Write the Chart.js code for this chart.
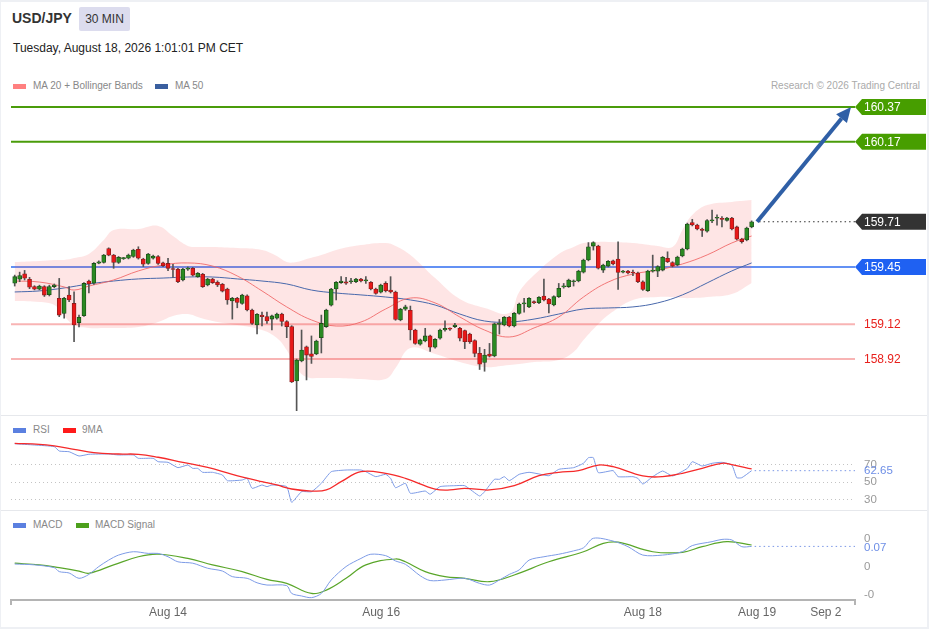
<!DOCTYPE html>
<html>
<head>
<meta charset="utf-8">
<title>USD/JPY 30 MIN</title>
<script src="https://cdn.jsdelivr.net/npm/chart.js@4.4.1/dist/chart.umd.min.js"></script>
<style>
  body { margin:0; width:929px; height:629px; background:#eef0f4; font-family:"Liberation Sans", Arial, sans-serif; overflow:hidden; }
  .abs { position:absolute; }
  #sheet { left:1px; top:2px; width:926px; height:625px; background:#fff; }
  .sep { left:1px; width:926px; height:1px; background:#e6e8ec; }
  .sw { height:5px; width:13px; }
  .lg { font-size:10px; color:#888; line-height:12px; white-space:nowrap; }
  canvas { position:absolute; left:0; }
</style>
</head>
<body>
<div id="sheet" class="abs"></div>
<div class="abs sep" style="top:415px"></div>
<div class="abs sep" style="top:510px"></div>

<div class="abs" style="left:12px;top:10px;font-size:14px;font-weight:bold;color:#333;">USD/JPY</div>
<div class="abs" style="left:79px;top:7px;width:51px;height:24px;line-height:24px;background:#dcdcee;text-align:center;font-size:12px;color:#333;border-radius:2px;">30 MIN</div>
<div class="abs" style="left:13px;top:41px;font-size:12px;color:#222;">Tuesday, August 18, 2026 1:01:01 PM CET</div>

<div class="abs sw" style="left:13px;top:84px;background:#ff8080;"></div>
<div class="abs lg" style="left:33px;top:80px;">MA 20 + Bollinger Bands</div>
<div class="abs sw" style="left:155px;top:84px;background:#3a5f9f;"></div>
<div class="abs lg" style="left:175px;top:80px;">MA 50</div>
<div class="abs lg" style="right:9px;top:80px;color:#aaa;">Research © 2026 Trading Central</div>

<div class="abs sw" style="left:13px;top:428px;background:#5b80e0;"></div>
<div class="abs lg" style="left:33px;top:424px;">RSI</div>
<div class="abs sw" style="left:63px;top:428px;background:#ff1a1a;"></div>
<div class="abs lg" style="left:82px;top:424px;">9MA</div>

<div class="abs sw" style="left:13px;top:523px;background:#5b80e0;"></div>
<div class="abs lg" style="left:33px;top:519px;">MACD</div>
<div class="abs sw" style="left:76px;top:523px;background:#4ca01c;"></div>
<div class="abs lg" style="left:95px;top:519px;">MACD Signal</div>

<canvas id="main" width="929" height="320" style="top:95px"></canvas>
<canvas id="rsi" width="929" height="94" style="top:416px"></canvas>
<canvas id="macd" width="929" height="118" style="top:511px"></canvas>

<script>
// ---- candles (30 min, index 0 = first bar on screen) ----
const opens = [
159.356,159.380,159.410,159.379,159.337,159.322,159.337,159.290,159.337,159.269,
159.183,159.288,159.240,159.130,159.170,159.369,159.357,159.472,159.476,159.556,
159.518,159.476,159.498,159.500,159.510,159.551,159.495,159.470,159.500,159.510,
159.474,159.470,159.440,159.437,159.375,159.437,159.442,159.394,159.408,159.346,
159.380,159.361,159.350,159.323,159.254,159.270,159.240,159.284,159.202,159.116,
159.173,159.164,159.150,159.155,159.179,159.136,159.107,158.794,158.909,158.990,
158.950,158.950,159.043,159.107,159.230,159.323,159.360,159.365,159.365,159.365,
159.380,159.370,159.361,159.323,159.305,159.355,159.317,159.306,159.145,159.207,
159.200,159.087,159.006,159.024,159.053,158.988,159.040,159.087,159.097,159.107,
159.097,159.084,159.064,159.026,158.953,158.900,158.949,158.938,159.120,159.116,
159.160,159.110,159.183,159.237,159.220,159.250,159.244,159.283,159.265,159.231,
159.279,159.335,159.337,159.365,159.369,159.420,159.490,159.570,159.570,159.432,
159.455,159.485,159.495,159.420,159.426,159.418,159.415,159.365,159.314,159.426,
159.426,159.432,159.500,159.475,159.461,159.513,159.553,159.705,159.691,159.668,
159.655,159.715,159.730,159.726,159.718,159.731,159.680,159.610,159.605,159.680];
const highs = [
159.403,159.420,159.430,159.390,159.342,159.345,159.342,159.345,159.352,159.384,
159.275,159.337,159.307,159.173,159.360,159.375,159.475,159.485,159.522,159.560,
159.522,159.510,159.505,159.524,159.552,159.566,159.500,159.528,159.518,159.515,
159.478,159.500,159.465,159.442,159.442,159.450,159.447,159.418,159.413,159.385,
159.385,159.370,159.355,159.328,159.275,159.275,159.293,159.289,159.207,159.182,
159.190,159.190,159.173,159.184,159.184,159.141,159.112,158.920,159.087,158.995,
159.053,159.029,159.173,159.207,159.327,159.366,159.394,159.390,159.385,159.385,
159.385,159.394,159.366,159.328,159.351,159.365,159.394,159.311,159.212,159.230,
159.225,159.092,159.035,159.097,159.058,159.038,159.092,159.140,159.100,159.125,
159.102,159.087,159.069,159.031,158.987,158.976,159.010,159.127,159.148,159.165,
159.165,159.188,159.242,159.269,159.274,159.255,159.280,159.380,159.270,159.284,
159.355,159.355,159.380,159.375,159.431,159.495,159.590,159.595,159.575,159.466,
159.487,159.490,159.595,159.431,159.431,159.432,159.420,159.370,159.431,159.518,
159.457,159.510,159.537,159.480,159.512,159.558,159.702,159.724,159.696,159.673,
159.722,159.777,159.750,159.740,159.736,159.736,159.685,159.615,159.679,159.715];
const lows = [
159.340,159.365,159.375,159.325,159.318,159.318,159.280,159.283,159.330,159.164,
159.155,159.250,159.020,159.105,159.165,159.300,159.350,159.468,159.472,159.514,
159.442,159.470,159.493,159.496,159.505,159.495,159.452,159.465,159.495,159.465,
159.452,159.428,159.390,159.360,159.370,159.430,159.398,159.390,159.332,159.341,
159.355,159.337,159.306,159.235,159.150,159.215,159.235,159.197,159.120,159.064,
159.110,159.125,159.087,159.150,159.110,159.043,158.785,158.623,158.904,158.800,
158.895,158.945,158.955,159.102,159.225,159.260,159.355,159.350,159.355,159.360,
159.364,159.355,159.318,159.293,159.300,159.306,159.300,159.143,159.140,159.200,
159.030,159.005,159.000,159.019,158.964,158.983,159.035,159.080,159.085,159.100,
159.024,158.980,159.010,158.933,158.860,158.850,158.932,158.933,159.064,159.111,
159.105,159.105,159.178,159.190,159.215,159.239,159.239,159.255,159.185,159.226,
159.274,159.328,159.332,159.340,159.364,159.415,159.485,159.547,159.438,159.418,
159.450,159.462,159.320,159.415,159.410,159.400,159.360,159.315,159.309,159.420,
159.394,159.427,159.475,159.450,159.456,159.508,159.548,159.686,159.663,159.625,
159.650,159.705,159.690,159.680,159.713,159.663,159.605,159.587,159.600,159.675];
const closes = [
159.394,159.400,159.385,159.333,159.322,159.340,159.288,159.337,159.346,159.173,
159.269,159.260,159.116,159.160,159.355,159.352,159.470,159.480,159.518,159.518,
159.476,159.505,159.500,159.518,159.547,159.500,159.466,159.524,159.513,159.470,
159.457,159.442,159.435,159.365,159.437,159.440,159.403,159.413,159.337,159.380,
159.360,159.346,159.311,159.260,159.270,159.246,159.288,159.202,159.125,159.177,
159.164,159.139,159.168,159.179,159.136,159.107,158.788,158.914,158.972,158.943,
158.935,159.024,159.125,159.202,159.323,159.361,159.369,159.356,159.370,159.380,
159.369,159.372,159.323,159.298,159.346,159.313,159.306,159.148,159.207,159.220,
159.087,159.010,159.030,159.053,158.988,159.033,159.087,159.097,159.092,159.116,
159.040,159.020,159.020,158.953,158.891,158.943,158.937,159.122,159.125,159.160,
159.110,159.183,159.237,159.244,159.269,159.244,159.275,159.260,159.237,159.279,
159.327,159.340,159.375,159.369,159.426,159.490,159.566,159.590,159.443,159.461,
159.482,159.467,159.418,159.426,159.415,159.415,159.365,159.320,159.426,159.430,
159.452,159.505,159.480,159.455,159.507,159.553,159.697,159.691,159.668,159.660,
159.717,159.720,159.733,159.724,159.731,159.668,159.610,159.596,159.674,159.710];

// ---- Bollinger bands (read at these bar indices) ----
const bandIdx = [0,5,8,10,12,15,18,20,25,29,32,35,37,40,45,50,53,55,57,59,62,65,70,75,77,80,85,90,95,100,102,105,110,113,115,118,120,125,130,133,135,137,140,145,149];
const bandUpper = [159.478,159.484,159.490,159.490,159.501,159.525,159.605,159.663,159.668,159.686,
  159.628,159.571,159.565,159.565,159.559,159.548,159.513,159.478,159.478,159.496,
  159.519,159.548,159.576,159.588,159.571,159.519,159.386,159.265,159.214,159.185,
  159.306,159.403,159.525,159.565,159.588,159.594,159.594,159.588,159.571,159.565,
  159.663,159.749,159.806,159.824,159.835];
const bandLower = [159.254,159.248,159.231,159.168,159.116,159.099,159.099,159.099,159.104,159.133,
  159.168,159.179,159.162,159.139,159.116,159.087,159.041,158.972,158.869,158.817,
  158.811,158.811,158.805,158.805,158.869,158.984,158.949,158.903,158.874,158.886,
  158.891,158.903,158.915,158.961,159.030,159.122,159.174,159.260,159.277,159.277,
  159.271,159.271,159.277,159.294,159.358];

const ma20Idx = [0,5,10,12,15,20,25,30,35,40,45,50,55,60,65,70,75,80,85,90,95,100,105,110,115,120,125,130,135,140,145,149];
const ma20 = [159.369,159.363,159.335,159.317,159.340,159.375,159.427,159.461,159.473,159.455,
  159.398,159.312,159.220,159.145,159.110,159.133,159.208,159.271,159.243,159.162,
  159.087,159.047,159.099,159.162,159.277,159.363,159.409,159.432,159.467,159.519,
  159.588,159.628];
const ma50Idx = [0,5,10,15,20,25,30,35,40,45,50,55,60,65,70,75,80,85,90,95,100,105,110,115,120,125,130,135,140,145,149];
const ma50 = [159.306,159.312,159.329,159.352,159.369,159.381,159.386,159.392,159.392,159.381,
  159.369,159.352,159.317,159.300,159.289,159.277,159.260,159.231,159.179,159.139,
  159.133,159.150,159.179,159.208,159.214,159.220,159.243,159.289,159.358,159.427,
  159.473];

// ---- key levels ----
const resistances = [160.37, 160.17];
const pivot = 159.45;
const supports = [159.12, 158.92];
const lastPrice = 159.71;
const arrowFrom = [150.1, 159.71];   // [bar index, price]
const arrowTo = [169.1, 160.37];

// ---- RSI ----
const rsiIdx = [0,4,8,9,11,13,15,19,21,24,25,28,29,31,33,35,36,37,38,40,42,43,46,47,48,50,51,52,55,56,58,60,62,64,67,70,71,73,75,76,77,79,80,83,84,86,89,91,94,95,97,98,99,100,102,104,106,108,110,113,115,116,117,118,121,122,125,126,127,129,131,133,136,137,139,141,143,145,146,147,149];
const rsiVals = [93.4,92.0,90.1,85.1,84.3,79.4,81.4,81.7,80.6,80.6,76.8,76.8,72.9,72.2,66.1,69.1,65.3,65.3,60.8,60.8,
  57.7,51.2,52.0,53.9,42.5,46.3,44.4,46.3,44.4,26.5,38.6,38.6,48.2,61.5,63.4,63.4,61.5,55.8,58.5,53.9,
  43.2,48.2,36.8,39.4,35.7,44.4,45.5,45.5,33.7,38.6,52.8,52.8,55.8,51.2,58.5,60.8,58.9,56.9,64.2,66.1,
  71.1,77.5,77.5,60.4,62.7,55.8,55.8,53.9,47.4,55.8,62.3,56.6,65.3,72.9,68.0,71.1,72.2,69.1,54.6,54.6,62.65];
const rsiMaIdx = [0,5,8,12,16,21,25,29,34,39,44,50,53,56,60,63,66,70,75,79,85,88,91,96,101,106,110,114,118,121,127,131,135,139,143,145,149];
const rsiMaVals = [93.9,92.8,90.9,87.1,83.2,81.7,81.4,78.0,72.2,66.5,58.5,50.1,46.3,41.7,39.4,40.6,50.1,61.5,59.6,53.9,
  41.7,40.6,42.5,40.6,45.5,56.9,60.8,62.7,69.1,67.2,56.6,55.8,59.6,65.3,71.1,69.5,64.6];
const rsiTicks = [70, 50, 30];

// ---- MACD ----
const macdIdx = [0,4,8,9,11,13,15,17,19,21,24,27,29,31,33,36,39,42,44,47,49,51,55,56,58,60,62,64,67,70,72,75,77,79,82,84,87,91,94,96,98,100,102,104,107,110,113,115,117,121,124,127,131,135,137,141,143,145,147,149];
const macdVals = [0.007,0.004,-0.006,-0.020,-0.025,-0.044,-0.030,-0.002,0.021,0.039,
  0.051,0.045,0.045,0.033,0.015,0.010,-0.008,-0.018,-0.038,-0.044,
  -0.060,-0.068,-0.070,-0.098,-0.107,-0.113,-0.098,-0.050,-0.002,0.027,
  0.042,0.037,0.018,0.006,-0.035,-0.052,-0.050,-0.044,-0.062,-0.068,
  -0.050,-0.030,-0.014,0.021,0.033,0.042,0.054,0.065,0.099,0.089,
  0.069,0.039,0.039,0.051,0.073,0.087,0.095,0.093,0.069,0.070];
const signalIdx = [0,5,9,13,15,20,25,29,35,40,46,51,55,60,63,67,71,77,79,83,87,91,96,101,108,115,119,122,129,135,139,144,149];
const signalVals = [0.010,0.004,-0.006,-0.018,-0.026,0.004,0.033,0.042,0.027,0.004,
  -0.020,-0.048,-0.062,-0.098,-0.086,-0.044,0.004,0.025,0.015,-0.020,
  -0.038,-0.044,-0.056,-0.032,0.015,0.051,0.081,0.085,0.051,0.049,
  0.069,0.087,0.075];
const macdTicks = [0.1, 0, -0.1];

// ---- time axis ----
const timeTickIdx = [31.0, 74.1, 127.0, 150.1, 164.0];
const timeTickLabels = ['Aug 14', 'Aug 16', 'Aug 18', 'Aug 19', 'Sep 2'];

// ------------------------------------------------------------------
const FONT = '12px "Liberation Sans", Arial, sans-serif';
const SMALL = '11.5px "Liberation Sans", Arial, sans-serif';
const pts = (idx, vals) => idx.map((x, k) => ({ x: x, y: vals[k] }));
const xScale = { type: 'linear', min: -0.75, max: 169.9, display: false, offset: false };
const base = {
  animation: false, responsive: false, events: [],
  plugins: { legend: { display: false }, tooltip: { enabled: false } }
};

function hline(ctx, a, y, color, width, dash) {
  ctx.save();
  ctx.strokeStyle = color; ctx.lineWidth = width;
  if (dash) ctx.setLineDash(dash);
  ctx.beginPath(); ctx.moveTo(a.left, y); ctx.lineTo(a.right, y); ctx.stroke();
  ctx.restore();
}

function tag(ctx, x, y, text, bg) {
  ctx.save();
  ctx.fillStyle = bg;
  ctx.beginPath();
  ctx.moveTo(x, y);
  ctx.lineTo(x + 7, y - 8);
  ctx.lineTo(x + 71, y - 8);
  ctx.lineTo(x + 71, y + 8);
  ctx.lineTo(x + 7, y + 8);
  ctx.closePath();
  ctx.fill();
  ctx.fillStyle = '#fff';
  ctx.font = FONT; ctx.textBaseline = 'middle';
  ctx.fillText(text, x + 9, y + 0.5);
  ctx.restore();
}

const mainDeco = {
  id: 'mainDeco',
  beforeDatasetsDraw(chart) {
    const { ctx, chartArea: a, scales: { y } } = chart;
    resistances.forEach(p => hline(ctx, a, y.getPixelForValue(p), '#4a9c0a', 2));
    supports.forEach(p => hline(ctx, a, y.getPixelForValue(p), '#f8b4b4', 2));
    hline(ctx, a, y.getPixelForValue(pivot), '#2f6df0', 1.5);
  },
  afterDraw(chart) {
    const { ctx, chartArea: a, scales: { x, y } } = chart;
    // dotted line from last bar to the price tag
    const ly = y.getPixelForValue(lastPrice);
    ctx.save();
    ctx.strokeStyle = '#333'; ctx.lineWidth = 1.2; ctx.setLineDash([1.5, 3]);
    ctx.beginPath(); ctx.moveTo(x.getPixelForValue(arrowFrom[0]) + 2, ly); ctx.lineTo(a.right, ly); ctx.stroke();
    ctx.restore();
    // projection arrow
    const x0 = x.getPixelForValue(arrowFrom[0]), y0 = y.getPixelForValue(arrowFrom[1]);
    const x1 = x.getPixelForValue(arrowTo[0]), y1 = y.getPixelForValue(arrowTo[1]);
    const ang = Math.atan2(y1 - y0, x1 - x0), hl = 15, hw = 7;
    const bx = x1 - hl * Math.cos(ang), by = y1 - hl * Math.sin(ang);
    ctx.save();
    ctx.strokeStyle = '#2f5fa6'; ctx.fillStyle = '#2f5fa6'; ctx.lineWidth = 4;
    ctx.beginPath(); ctx.moveTo(x0, y0); ctx.lineTo(bx, by); ctx.stroke();
    ctx.beginPath();
    ctx.moveTo(x1, y1);
    ctx.lineTo(bx + hw * Math.sin(ang), by - hw * Math.cos(ang));
    ctx.lineTo(bx - hw * Math.sin(ang), by + hw * Math.cos(ang));
    ctx.closePath(); ctx.fill();
    ctx.restore();
    // tags and labels
    resistances.forEach(p => tag(ctx, a.right, y.getPixelForValue(p), p.toFixed(2), '#479e00'));
    tag(ctx, a.right, ly, lastPrice.toFixed(2), '#333333');
    tag(ctx, a.right, y.getPixelForValue(pivot), pivot.toFixed(2), '#1f61f2');
    ctx.save();
    ctx.font = FONT; ctx.textBaseline = 'middle'; ctx.fillStyle = '#e8201c';
    supports.forEach(p => ctx.fillText(p.toFixed(2), a.right + 9, y.getPixelForValue(p) + 0.5));
    ctx.restore();
  }
};

const up = '#2a8a22', upLine = '#1b4d17', down = '#e81818', downLine = '#8a1d1d';

new Chart(document.getElementById('main'), {
  type: 'bar',
  data: {
    datasets: [
      { type: 'line', data: pts(bandIdx, bandUpper), fill: '+1', backgroundColor: 'rgba(250,70,70,0.14)',
        borderWidth: 0, pointRadius: 0, tension: 0.4, order: 10 },
      { type: 'line', data: pts(bandIdx, bandLower), fill: false, borderWidth: 0, pointRadius: 0, tension: 0.4, order: 10 },
      { type: 'line', data: pts(ma20Idx, ma20), borderColor: 'rgba(240,100,100,0.85)', borderWidth: 1,
        pointRadius: 0, tension: 0.4, fill: false, order: 6 },
      { type: 'line', data: pts(ma50Idx, ma50), borderColor: '#4868ab', borderWidth: 1,
        pointRadius: 0, tension: 0.4, fill: false, order: 6 },
      { type: 'bar', data: closes.map((c, i) => ({ x: i, y: [lows[i], highs[i]] })),
        backgroundColor: '#555', barThickness: 1, grouped: false, order: 2 },
      { type: 'bar', data: closes.map((c, i) => ({ x: i, y: [opens[i], c] })),
        backgroundColor: closes.map((c, i) => c >= opens[i] ? up : down),
        borderColor: closes.map((c, i) => c >= opens[i] ? upLine : downLine),
        borderWidth: 0.8, borderSkipped: false, barThickness: 4, minBarLength: 1, grouped: false, order: 1 }
    ]
  },
  options: Object.assign({}, base, {
    layout: { padding: { left: 11, right: 74, top: 0, bottom: 1 } },
    scales: { x: xScale, y: { type: 'linear', min: 158.604, max: 160.439, display: false } }
  }),
  plugins: [mainDeco]
});

// ---- RSI panel ----
const rsiDeco = {
  id: 'rsiDeco',
  beforeDatasetsDraw(chart) {
    const { ctx, chartArea: a, scales: { y } } = chart;
    rsiTicks.forEach(t => hline(ctx, a, Math.round(y.getPixelForValue(t)) + 0.5, '#c4c4c4', 1, [1, 3]));
  },
  afterDraw(chart) {
    const { ctx, chartArea: a, scales: { x, y } } = chart;
    const last = rsiVals[rsiVals.length - 1];
    const ly = y.getPixelForValue(last);
    ctx.save();
    ctx.strokeStyle = '#7b97e6'; ctx.lineWidth = 1; ctx.setLineDash([1.5, 3]);
    ctx.beginPath(); ctx.moveTo(x.getPixelForValue(rsiIdx[rsiIdx.length - 1]) + 3, ly); ctx.lineTo(a.right, ly); ctx.stroke();
    ctx.setLineDash([]);
    ctx.font = SMALL; ctx.textBaseline = 'middle';
    ctx.fillStyle = '#999';
    rsiTicks.forEach(t => ctx.fillText(String(t), a.right + 9, y.getPixelForValue(t) + 0.5));
    ctx.fillStyle = '#6d8ee6';
    ctx.fillText(last.toFixed(2), a.right + 9, ly + 0.5);
    ctx.restore();
  }
};

new Chart(document.getElementById('rsi'), {
  type: 'line',
  data: {
    datasets: [
      { data: pts(rsiIdx, rsiVals), borderColor: '#7d9be6', borderWidth: 1, pointRadius: 0, tension: 0.15, fill: false, order: 2 },
      { data: pts(rsiMaIdx, rsiMaVals), borderColor: '#f52a2a', borderWidth: 1.3, pointRadius: 0, tension: 0.4, fill: false, order: 1 }
    ]
  },
  options: Object.assign({}, base, {
    layout: { padding: { left: 11, right: 74, top: 22, bottom: 2 } },
    scales: { x: xScale, y: { type: 'linear', min: 20, max: 100, display: false } }
  }),
  plugins: [rsiDeco]
});

// ---- MACD panel ----
const macdDeco = {
  id: 'macdDeco',
  afterDraw(chart) {
    const { ctx, chartArea: a, scales: { x, y } } = chart;
    const last = macdVals[macdVals.length - 1];
    const ly = y.getPixelForValue(last);
    ctx.save();
    ctx.strokeStyle = '#7b97e6'; ctx.lineWidth = 1; ctx.setLineDash([1.5, 3]);
    ctx.beginPath(); ctx.moveTo(x.getPixelForValue(macdIdx[macdIdx.length - 1]) + 3, ly); ctx.lineTo(a.right, ly); ctx.stroke();
    ctx.setLineDash([]);
    ctx.font = SMALL; ctx.textBaseline = 'middle';
    ctx.fillStyle = '#999';
    macdTicks.forEach(t => ctx.fillText(t.toFixed(0), a.right + 9, y.getPixelForValue(t) + 0.5));
    ctx.fillStyle = '#6d8ee6';
    ctx.fillText(last.toFixed(2), a.right + 9, ly + 1.5);
    // time axis
    ctx.strokeStyle = '#b4b4b4'; ctx.lineWidth = 2;
    ctx.beginPath();
    ctx.moveTo(a.left, a.bottom + 5); ctx.lineTo(a.left, a.bottom);
    ctx.lineTo(a.right, a.bottom); ctx.lineTo(a.right, a.bottom + 5);
    ctx.stroke();
    ctx.font = FONT; ctx.fillStyle = '#666'; ctx.textAlign = 'center';
    timeTickIdx.forEach((t, k) => ctx.fillText(timeTickLabels[k], x.getPixelForValue(t), a.bottom + 13));
    ctx.restore();
  }
};

new Chart(document.getElementById('macd'), {
  type: 'line',
  data: {
    datasets: [
      { data: pts(macdIdx, macdVals), borderColor: '#7d9be6', borderWidth: 1, pointRadius: 0, tension: 0.3, fill: false, order: 1 },
      { data: pts(signalIdx, signalVals), borderColor: '#5aa62a', borderWidth: 1.2, pointRadius: 0, tension: 0.4, fill: false, order: 2 }
    ]
  },
  options: Object.assign({}, base, {
    layout: { padding: { left: 11, right: 74, top: 19, bottom: 29 } },
    scales: { x: xScale, y: { type: 'linear', min: -0.12143, max: 0.12857, display: false } }
  }),
  plugins: [macdDeco]
});
</script>
</body>
</html>
